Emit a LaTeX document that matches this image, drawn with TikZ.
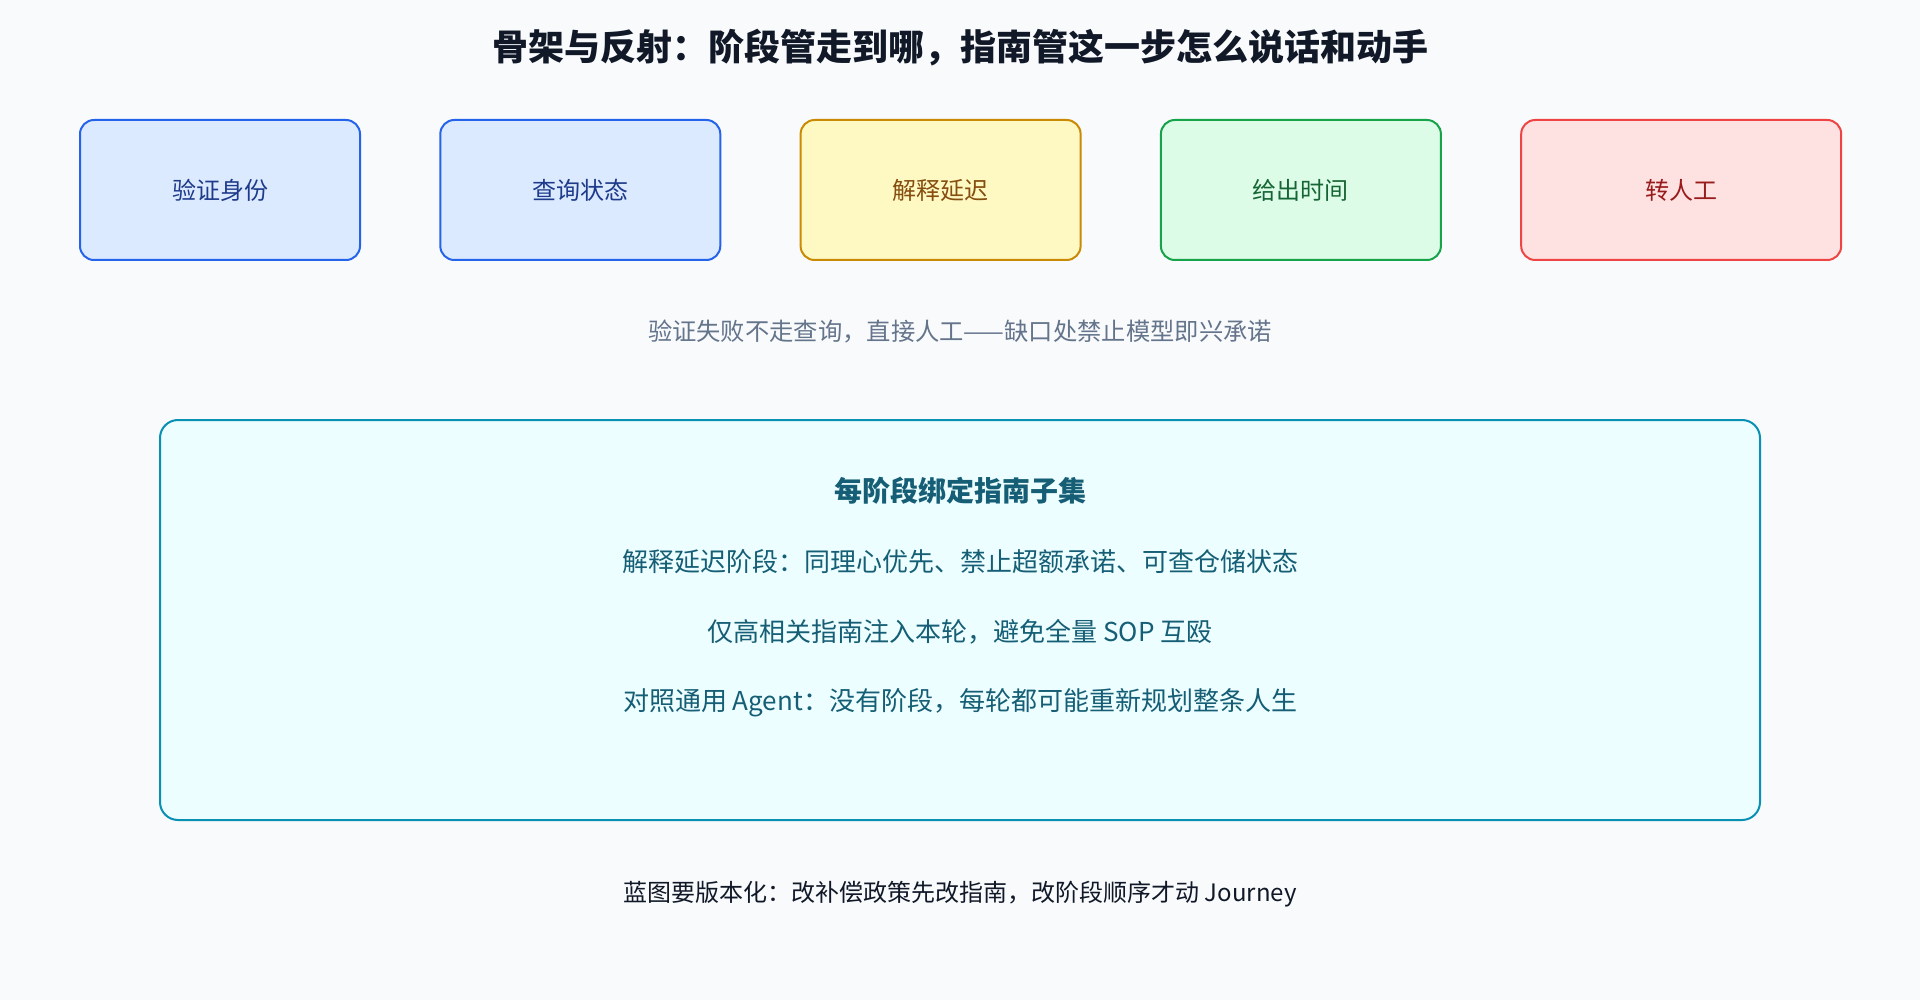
\documentclass[tikz,border=0pt]{standalone}
\usepackage{fontspec}
\setmainfont{Noto Sans CJK SC}
\usetikzlibrary{positioning}
\definecolor{bgcol}{HTML}{F8FAFC}
\definecolor{titlecol}{HTML}{111827}
\definecolor{bluefill}{HTML}{DBEAFE}
\definecolor{blueline}{HTML}{2563EB}
\definecolor{bluetext}{HTML}{1E3A8A}
\definecolor{yellowfill}{HTML}{FEF9C3}
\definecolor{yellowline}{HTML}{CA8A04}
\definecolor{yellowtext}{HTML}{854D0E}
\definecolor{greenfill}{HTML}{DCFCE7}
\definecolor{greenline}{HTML}{16A34A}
\definecolor{greentext}{HTML}{166534}
\definecolor{redfill}{HTML}{FEE2E2}
\definecolor{redline}{HTML}{EF4444}
\definecolor{redtext}{HTML}{991B1B}
\definecolor{cyanfill}{HTML}{ECFEFF}
\definecolor{cyanline}{HTML}{0891B2}
\definecolor{cyantext}{HTML}{155E75}
\definecolor{notecol}{HTML}{64748B}
\tikzset{
  stage/.style={draw, line width=2pt, rounded corners=14pt, minimum width=280pt, minimum height=140pt, text depth=2pt, font=\fontsize{24}{28}\selectfont},
  guide/.style={font=\fontsize{26}{30}\selectfont, text=cyantext, inner sep=0pt},
}
\begin{document}
\begin{tikzpicture}[x=1pt, y=-1pt]
  \fill[bgcol] (0,0) rectangle (1920,1000);
  \useasboundingbox (0,0) rectangle (1920,1000);
  \node[font=\fontsize{36}{40}\selectfont\bfseries, text=titlecol] (title) at (960,48) {骨架与反射：阶段管走到哪，指南管这一步怎么说话和动手};
  \node[stage, fill=bluefill, draw=blueline, text=bluetext] (verify) at (220,190) {验证身份};
  \node[stage, fill=bluefill, draw=blueline, text=bluetext, right=78.3pt of verify] (query) {查询状态};
  \node[stage, fill=yellowfill, draw=yellowline, text=yellowtext, right=78.3pt of query] (explain) {解释延迟};
  \node[stage, fill=greenfill, draw=greenline, text=greentext, right=78.3pt of explain] (time) {给出时间};
  \node[stage, fill=redfill, draw=redline, text=redtext, minimum width=320pt, right=78.3pt of time] (human) {转人工};
  \node[font=\fontsize{24.3}{28}\selectfont, text=notecol] (gap) at (960,332) {验证失败不走查询，直接人工——缺口处禁止模型即兴承诺};
  \node[draw=cyanline, fill=cyanfill, line width=2pt, rounded corners=18pt, minimum width=1600pt, minimum height=400pt] (subset) at (960,620) {};
  \node[font=\fontsize{28}{32}\selectfont\bfseries, text=cyantext] (subtitle) at (960,491) {每阶段绑定指南子集};
  \node[guide] (line1) at (960,562) {解释延迟阶段：同理心优先、禁止超额承诺、可查仓储状态};
  \node[guide] (line2) at (960,632) {仅高相关指南注入本轮，避免全量 SOP 互殴};
  \node[guide] (line3) at (960,702.5) {对照通用 Agent：没有阶段，每轮都可能重新规划整条人生};
  \node[font=\fontsize{24}{28}\selectfont, text=titlecol] (footer) at (960,894) {蓝图要版本化：改补偿政策先改指南，改阶段顺序才动 Journey};
\end{tikzpicture}
\end{document}
